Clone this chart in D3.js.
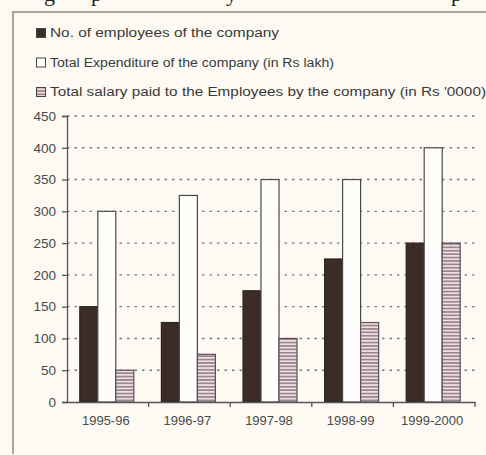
<!DOCTYPE html>
<html>
<head>
<meta charset="utf-8">
<script src="https://cdn.jsdelivr.net/npm/d3@7"></script>
<style>
  body { margin: 0; background: #fcfaf2; }
  svg { display: block; }
</style>
</head>
<body>
<div id="chart"></div>
<script>
"use strict";

// data
const years = ["1995-96", "1996-97", "1997-98", "1998-99", "1999-2000"];
const employees = [150, 125, 175, 225, 250];
const expenditure = [300, 325, 350, 350, 400];
const salary = [50, 75, 100, 125, 250];
const seriesNames = [
    "No. of employees of the company",
    "Total Expenditure of the company (in Rs lakh)",
    "Total salary paid to the Employees by the company (in Rs '0000)"
];
const yTicks = [0, 50, 100, 150, 200, 250, 300, 350, 400, 450];

const msm = {
    width: 486,
    height: 455,
    left: 67,
    right: 475,
    top: 116,
    bottom: 402
}

let svg = d3.select("#chart")
    .append("svg")
    .attr("width", msm.width)
    .attr("height", msm.height);

// hatched fill for the salary bars
let defs = svg.append("defs");
let pat = defs.append("pattern")
    .attr("id", "hatch")
    .attr("patternUnits", "userSpaceOnUse")
    .attr("width", 6)
    .attr("height", 3.4);
pat.append("rect").attr("width", 6).attr("height", 3.4).attr("fill", "#eedfe0");
pat.append("rect").attr("y", 1.7).attr("width", 6).attr("height", 1.7).attr("fill", "#9a8590");

// cut off line of text from the page above (only the descenders show)
let topText = svg.append("text")
    .attr("y", 1)
    .style("font-family", "Liberation Serif, serif")
    .style("font-size", "22px")
    .attr("fill", "#222");
[["g", 44], ["p", 91], ["y", 226], ["p", 451]].forEach(function (g) {
    topText.append("tspan").attr("x", g[1]).text(g[0]);
});

// frame
svg.append("path")
    .attr("d", "M" + 13 + "," + 454 + "V" + 12 + "H" + 486)
    .attr("fill", "none")
    .attr("stroke", "#8a8a84")
    .attr("stroke-width", 1.5);

// legend
let legend = svg.append("g");
let legendFills = ["#3b2c26", "#fff", "url(#hatch)"];
let legendLen = [229, 284, 436];
seriesNames.forEach(function (name, i) {
    let cy = 33 + i * 29.5;
    legend.append("rect")
        .attr("x", 36.5)
        .attr("y", cy - 4.5)
        .attr("width", 9)
        .attr("height", 9)
        .attr("fill", legendFills[i])
        .attr("stroke", "#444")
        .attr("stroke-width", 1);
    legend.append("text")
        .attr("x", 50)
        .attr("y", cy)
        .attr("dy", "0.35em")
        .attr("textLength", legendLen[i])
        .attr("lengthAdjust", "spacingAndGlyphs")
        .style("font-family", "Liberation Sans, Arial, sans-serif")
        .style("font-size", "12px")
        .attr("fill", "#3a3a3a")
        .text(name);
});

// scales
let y = d3.scaleLinear()
    .domain([0, 450])
    .range([msm.bottom, msm.top]);

let x0 = d3.scaleBand()
    .domain(years)
    .range([msm.left, msm.right])
    .padding(0);

let groupW = 54;
let x1 = d3.scaleBand()
    .domain([0, 1, 2])
    .range([0, groupW])
    .padding(0);

// dotted gridlines
svg.append("g")
    .selectAll("line")
    .data(yTicks.filter(d => d > 0))
    .enter()
    .append("line")
    .attr("x1", msm.left)
    .attr("x2", msm.right)
    .attr("y1", d => y(d))
    .attr("y2", d => y(d))
    .attr("stroke", "#777")
    .attr("stroke-width", 1.4)
    .attr("stroke-dasharray", "2.5,5");

// bars
let rows = years.map((yr, i) => ({ year: yr, values: [employees[i], expenditure[i], salary[i]] }));
let barFills = ["#3b2c26", "#fffefa", "url(#hatch)"];
let barStroke = ["#2e2420", "#4a4a4a", "#5a5055"];

let groups = svg.selectAll(".grp")
    .data(rows)
    .enter()
    .append("g")
    .attr("class", "grp")
    .attr("transform", d => "translate(" + (x0(d.year) + (x0.bandwidth() - groupW) / 2 - 1) + ",0)");

groups.selectAll("rect")
    .data(d => d.values.map((v, k) => ({ k: k, v: v })))
    .enter()
    .append("rect")
    .attr("x", d => x1(d.k))
    .attr("y", d => y(d.v))
    .attr("width", x1.bandwidth())
    .attr("height", d => y(0) - y(d.v))
    .attr("fill", d => barFills[d.k])
    .attr("stroke", d => barStroke[d.k])
    .attr("stroke-width", 1.2);

// y axis
let yAxis = d3.axisLeft(y)
    .tickValues(yTicks)
    .tickSize(5)
    .tickPadding(6);
let ya = svg.append("g")
    .attr("transform", "translate(" + msm.left + ",0)")
    .call(yAxis);
ya.select(".domain").attr("stroke", "#555").attr("stroke-width", 1.3);
ya.selectAll(".tick line").attr("stroke", "#555").attr("stroke-width", 1.3);
ya.selectAll("text")
    .style("font-family", "Liberation Sans, Arial, sans-serif")
    .style("font-size", "13.5px")
    .attr("fill", "#4a4a4a");

// x axis: labels at centres, ticks at band edges
let xAxis = d3.axisBottom(x0)
    .tickSize(0)
    .tickPadding(14);
let xa = svg.append("g")
    .attr("transform", "translate(0," + msm.bottom + ")")
    .call(xAxis);
xa.select(".domain").attr("stroke", "#555").attr("stroke-width", 1.3);
xa.selectAll("text")
    .attr("x", -2)
    .style("font-family", "Liberation Sans, Arial, sans-serif")
    .style("font-size", "13px")
    .attr("fill", "#4a4a4a");

svg.append("g")
    .selectAll("line")
    .data(years)
    .enter()
    .append("line")
    .attr("x1", d => x0(d) + x0.bandwidth())
    .attr("x2", d => x0(d) + x0.bandwidth())
    .attr("y1", msm.bottom)
    .attr("y2", msm.bottom + 5)
    .attr("stroke", "#555")
    .attr("stroke-width", 1.3);
</script>
</body>
</html>
